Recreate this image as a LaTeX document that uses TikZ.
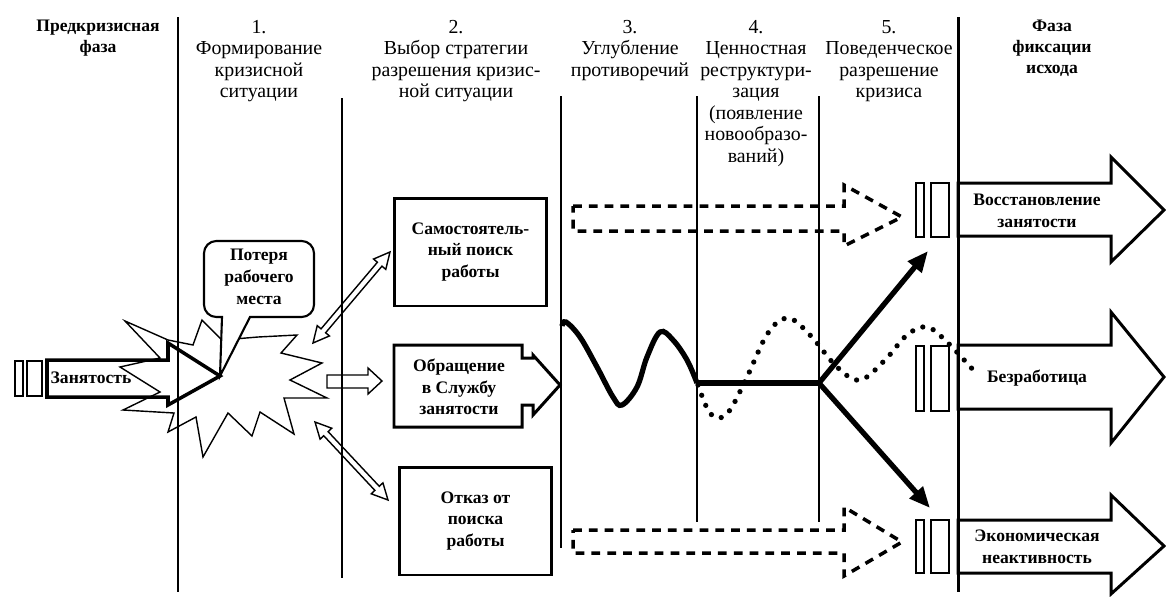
\documentclass[tikz,border=0pt]{standalone}
\usepackage{fontspec}
\setmainfont{Liberation Serif}
\usetikzlibrary{calc}
\usetikzlibrary{arrows.meta}

\begin{document}
\begin{tikzpicture}[x=0.02cm, y=-0.02cm,
  phaseline/.style={line width=1.7pt},
  stageline/.style={line width=0.6pt},
  heading/.style={anchor=north, inner sep=0pt, align=center, font=\fontsize{11.3}{12.2}\selectfont},
  phasehead/.style={heading, font=\fontsize{10}{11.8}\selectfont\bfseries},
  boxtext/.style={inner sep=0pt, align=center, font=\fontsize{10}{12.4}\selectfont\bfseries},
  stagebox/.style={draw, line width=1.7pt, boxtext, minimum width=3.06cm, minimum height=2.16cm},
  bigarrow/.style={draw, line width=1.7pt, line join=miter},
  bar/.style={draw, line width=1.4pt},
  hollowarrow/.style={draw, line width=0.8pt},
  dashedarrow/.style={draw, line width=2pt, dash pattern=on 5pt off 4pt},
  solidpath/.style={line width=3pt},
  dottedpath/.style={line width=3pt, dash pattern=on 0pt off 6.2pt, line cap=round},
  burst/.style={draw, line width=0.8pt, line join=miter}
]

\useasboundingbox (0,0) rectangle (1166,596);

% phase and stage borders
\draw[phaseline] (178,17) -- (178,592);
\draw[phaseline] (958,17) -- (958,592);
\draw[stageline] (342,98) -- (342,578);
\draw[stageline] (561,96) -- (561,548);
\draw[stageline] (697,96) -- (697,522);
\draw[stageline] (819,96) -- (819,522);

% headings
\node[phasehead] (pre) at (98,20) {Предкризисная\\фаза};
\node[heading] (st1) at (259,20) {1.\\Формирование\\кризисной\\ситуации};
\node[heading] (st2) at (456,20) {2.\\Выбор стратегии\\разрешения кризис-\\ной ситуации};
\node[heading] (st3) at (630,20) {3.\\Углубление\\противоречий};
\node[heading] (st4) at (756,20) {4.\\Ценностная\\реструктури-\\зация\\(появление\\новообразо-\\ваний)};
\node[heading] (st5) at (889,20) {5.\\Поведенческое\\разрешение\\кризиса};
\node[phasehead] (post) at (1052,20) {Фаза\\фиксации\\исхода};

% crisis burst
\draw[burst] (125,321) -- (168,340) -- (193,345) -- (202,320) -- (222,340) -- (258,337)
  -- (297,335) -- (281,353) -- (322,363) -- (290,380) -- (327,398) -- (284,398)
  -- (294,434) -- (260,412) -- (252,436) -- (228,413) -- (203,457) -- (196,417)
  -- (168,432) -- (174,413) -- (123,410) -- (160,392) -- (120,367) -- (160,358) -- cycle;

% employment
\draw[bar] (15,361) rectangle (23,396);
\draw[bar] (27,361) rectangle (42,396);
\draw[bigarrow, line width=2pt] (47,360) -- (168,360) -- (168,343) -- (220,376)
  -- (168,405) -- (168,397) -- (47,397) -- cycle;
\node[boxtext] (employed) at (91,378) {Занятость};

% job loss callout
\draw[line width=1.2pt, fill=white] (220,376) -- (222,317) [rounded corners=7pt] -- (204,317)
  -- (204,241) -- (314,241) -- (314,317) [sharp corners] -- (250,317) -- cycle;
\node[boxtext] (loss) at (259,277) {Потеря\\рабочего\\места};

% strategies
\node[stagebox] (search) at (470.5,252) {Самостоятель-\\ный поиск\\работы};
\node[stagebox] (refuse) at (475.5,521) {Отказ от\\поиска\\работы};
\draw[bigarrow] (394,345) -- (522,345) -- (522,358) -- (533,358) -- (533,355) -- (560,385)
  -- (533,415) -- (533,405) -- (522,405) -- (522,427) -- (394,427) -- cycle;
\node[boxtext] (apply) at (459,387) {Обращение\\в Службу\\занятости};

\coordinate (burstNE) at (313,343);
\coordinate (searchSW) at (390,252);
\coordinate (burstSE) at (315,422);
\coordinate (refuseNW) at (388,500);

\draw[hollowarrow] (burstNE)
  -- ($(burstNE)!0.32cm!(searchSW)!0.16cm!90:(searchSW)$)
  -- ($(burstNE)!0.32cm!(searchSW)!0.06cm!90:(searchSW)$)
  -- ($(searchSW)!0.32cm!(burstNE)!0.06cm!-90:(burstNE)$)
  -- ($(searchSW)!0.32cm!(burstNE)!0.16cm!-90:(burstNE)$)
  -- (searchSW)
  -- ($(searchSW)!0.32cm!(burstNE)!0.16cm!90:(burstNE)$)
  -- ($(searchSW)!0.32cm!(burstNE)!0.06cm!90:(burstNE)$)
  -- ($(burstNE)!0.32cm!(searchSW)!0.06cm!-90:(searchSW)$)
  -- ($(burstNE)!0.32cm!(searchSW)!0.16cm!-90:(searchSW)$) -- cycle;
\draw[hollowarrow] (burstSE)
  -- ($(burstSE)!0.32cm!(refuseNW)!0.16cm!90:(refuseNW)$)
  -- ($(burstSE)!0.32cm!(refuseNW)!0.06cm!90:(refuseNW)$)
  -- ($(refuseNW)!0.32cm!(burstSE)!0.06cm!-90:(burstSE)$)
  -- ($(refuseNW)!0.32cm!(burstSE)!0.16cm!-90:(burstSE)$)
  -- (refuseNW)
  -- ($(refuseNW)!0.32cm!(burstSE)!0.16cm!90:(burstSE)$)
  -- ($(refuseNW)!0.32cm!(burstSE)!0.06cm!90:(burstSE)$)
  -- ($(burstSE)!0.32cm!(refuseNW)!0.06cm!-90:(refuseNW)$)
  -- ($(burstSE)!0.32cm!(refuseNW)!0.16cm!-90:(refuseNW)$) -- cycle;
\draw[hollowarrow] (327,375) -- (368,375) -- (368,368) -- (382,381) -- (368,394)
  -- (368,388) -- (327,388) -- cycle;

% dashed routes
\draw[dashedarrow] (573,206) -- (844,206) -- (844,185) -- (902,217) -- (844,246)
  -- (844,231) -- (573,231) -- cycle;
\draw[dashedarrow] (573,530) -- (844,530) -- (844,507) -- (902,542) -- (844,576)
  -- (844,553) -- (573,553) -- cycle;

% outcomes
\draw[bar] (916,183) rectangle (924,237);
\draw[bar] (931,183) rectangle (949,237);
\draw[bigarrow] (958,183) -- (1111,183) -- (1111,157) -- (1164,210) -- (1111,262)
  -- (1111,236) -- (958,236) -- cycle;
\node[boxtext] (recover) at (1037,211) {Восстановление\\занятости};

\draw[bar] (916,346) rectangle (924,411);
\draw[bar] (931,346) rectangle (949,411);
\draw[bigarrow] (958,345) -- (1111,345) -- (1111,312) -- (1164,377) -- (1111,443)
  -- (1111,409) -- (958,409) -- cycle;
\node[boxtext] (unemployed) at (1037,378) {Безработица};

\draw[bar] (916,520) rectangle (924,573);
\draw[bar] (931,520) rectangle (949,573);
\draw[bigarrow] (958,520) -- (1111,520) -- (1111,495) -- (1164,546) -- (1111,594)
  -- (1111,573) -- (958,573) -- cycle;
\node[boxtext] (inactive) at (1037,547) {Экономическая\\неактивность};

% crisis course
\coordinate (turn) at (697,383);
\coordinate (split) at (819,383);
\coordinate (upbar) at (928,251);
\coordinate (lowbar) at (930,508);
\draw[solidpath] plot[smooth, tension=0.6] coordinates {(562,326) (566,322) (580,337)
  (597,367) (613,397) (622,405) (637,387) (647,357) (660,332) (673,340) (687,360) (697,383)};
\draw[solidpath] (turn) -- (split);
\draw[solidpath, -{Triangle[length=0.42cm, width=0.34cm]}] (split) -- (upbar);
\draw[solidpath, -{Triangle[length=0.42cm, width=0.34cm]}] (split) -- (lowbar);
\draw[dottedpath] plot[smooth, tension=0.6] coordinates {(698,385) (708,410) (718,418)
  (730,410) (747,377) (768,333) (788,318) (810,335) (837,367) (860,380) (885,360)
  (907,335) (927,327) (947,342) (975,372)};

\end{tikzpicture}
\end{document}
